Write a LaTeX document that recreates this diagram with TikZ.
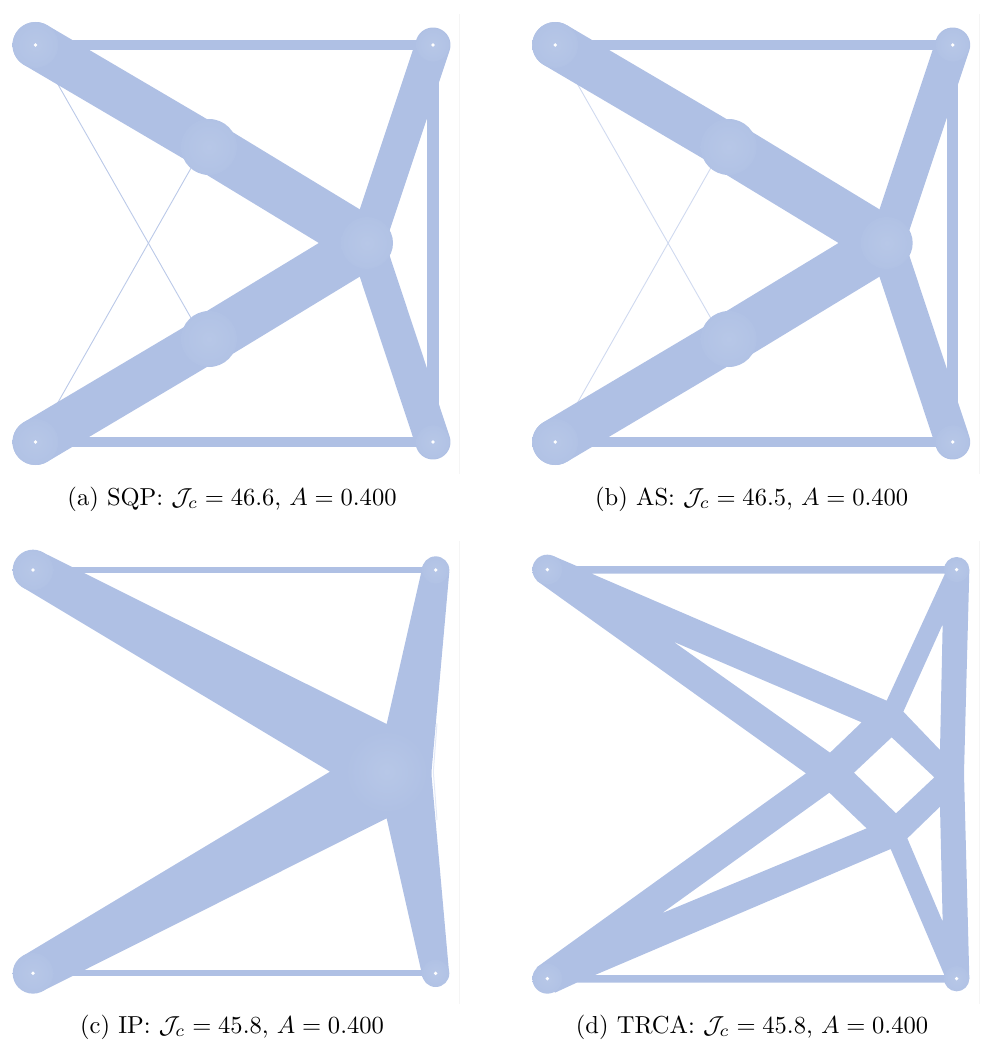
\documentclass[tikz,border=0pt]{standalone}
\tikzset{
  trussfill/.style={fill=trussblue,draw=none},
  bar/.style={draw=trussblue,line cap=round},
  butt/.style={draw=trussblue,line cap=butt},
  thin bar/.style={line width=0.9pt,line cap=butt},
  joint/.style={shade,shading=radial,inner color=trusslight,outer color=trussedge},
  hubglow/.style={shade,shading=radial,inner color=trusslight,outer color=trussblue},
  pinhole/.style={fill=white,draw=none},
  faint/.style={draw=black!4,line width=0.6pt},
  caption/.style={scale=2.455,transform shape,anchor=base,inner sep=0pt},
  zoomed/.style={x=0.33333pt,y=-0.33333pt}
}
\definecolor{trussblue}{HTML}{AFC0E4}
\definecolor{trusslight}{HTML}{B7C7E7}
\definecolor{trussedge}{HTML}{B1C2E5}
\newcommand{\stdpanel}[2]{%
  \begin{scope}[shift={(#1,0)}]
    \coordinate (TL) at (35.5,45);
    \coordinate (TR) at (433,45);
    \coordinate (BL) at (35.5,442);
    \coordinate (BR) at (433,442);
    \coordinate (UM) at (209,147);
    \coordinate (LM) at (209,339);
    \coordinate (UE) at (203,147);
    \coordinate (LE) at (203,339);
    \coordinate (HB) at (367,243);
    \draw[thin bar,draw=#2] (TL) -- (LE);
    \draw[thin bar,draw=#2] (BL) -- (UE);
    \draw[butt,line width=10pt] (TL) -- (TR);
    \draw[butt,line width=10pt] (BL) -- (BR);
    \draw[butt,line width=11.5pt] (TR) -- (BR);
    \draw[bar,line width=35pt] (TR) -- (HB);
    \draw[bar,line width=35pt] (BR) -- (HB);
    \draw[bar,line width=46pt] (TL) -- (UM);
    \draw[bar,line width=46pt] (BL) -- (LM);
    \draw[bar,line width=50pt] (UM) -- (HB);
    \draw[bar,line width=50pt] (LM) -- (HB);
    \path[joint] (HB) circle (26);
    \path[joint] (UM) circle (28);
    \path[joint] (LM) circle (28);
    \path[joint] (TL) circle (23);
    \path[joint] (BL) circle (23);
    \path[joint] (TR) circle (16.7);
    \path[joint] (BR) circle (16.7);
    \foreach \p in {TL,TR,BL,BR} \fill[pinhole] (\p) circle (1.9);
  \end{scope}}
\begin{document}
\begin{tikzpicture}[x=1pt,y=-1pt]
\useasboundingbox (0,0) rectangle (981,1043);
% faint frame lines
\draw[faint] (459.5,14) -- (459.5,474);
\draw[faint] (979.5,14) -- (979.5,474);
\draw[faint] (459.5,541) -- (459.5,1004);
\draw[faint] (979.5,541) -- (979.5,1004);

\stdpanel{0}{trussblue!85}
\stdpanel{519.7}{trussblue!60}

% panel c
\begin{scope}[shift={(0,530)},zoomed]
  \coordinate (cTL) at (99,120);
  \coordinate (cTR) at (1307,120);
  \coordinate (cBL) at (99,1330);
  \coordinate (cBR) at (1307,1330);
  \coordinate (cH) at (1160,725);
  \draw[trussblue!35,line width=1pt] (1311,580) -- (1300,725) -- (1311,870);
  \draw[butt,line width=6pt] (cTL) -- (cTR);
  \draw[butt,line width=6pt] (cBL) -- (cBR);
  \fill[trussfill] (126,66) -- (1160,582) -- (1268,108) -- (1348,125) -- (1295,720) -- (1295,740)
     -- (1347,1325) -- (1268,1342) -- (1160,865) -- (126,1384) -- (68,1278) -- (990,725) -- (68,172) -- cycle;
  \path[hubglow] (cH) circle (125);
  \path[joint] (cTL) circle (61);
  \path[joint] (cBL) circle (61);
  \path[joint] (cTR) circle (41);
  \path[joint] (cBR) circle (41);
  \foreach \p in {cTL,cTR,cBL,cBR} \fill[pinhole] (\p) circle (5.7);
\end{scope}

% panel d
\begin{scope}[shift={(500,530)},zoomed]
  \coordinate (dTL) at (142,119);
  \coordinate (dTR) at (1370,119);
  \coordinate (dBL) at (142,1346);
  \coordinate (dBR) at (1370,1346);
  \fill[trussfill,even odd rule]
     (160,78) -- (230,108) -- (1345,108) -- (1408,120) -- (1392,730) -- (1408,1346) -- (1345,1358) -- (230,1358)
     -- (165,1388) -- (110,1312) -- (918,730) -- (110,152) -- cycle
     (275,131) -- (1160,512) -- (1335,131) -- cycle
     (1328,283) -- (1210,545) -- (1320,660) -- cycle
     (520,335) -- (1085,577) -- (990,668) -- cycle
     (1175,622) -- (1303,742) -- (1188,850) -- (1062,728) -- cycle
     (485,1150) -- (1100,895) -- (988,788) -- cycle
     (285,1335) -- (1172,957) -- (1333,1335) -- cycle
     (1328,1175) -- (1222,925) -- (1320,830) -- cycle;
  \path[joint] (dTL) circle (45);
  \path[joint] (dBL) circle (45);
  \path[joint] (dTR) circle (38);
  \path[joint] (dBR) circle (38);
  \foreach \p in {dTL,dTR,dBL,dBR} \fill[pinhole] (\p) circle (5.7);
\end{scope}

\node[caption] (capa) at (232,505) {(a) SQP: $\mathcal{J}_c=46.6$, $A=0.400$};
\node[caption] (capb) at (751.7,505) {(b) AS: $\mathcal{J}_c=46.5$, $A=0.400$};
\node[caption] (capc) at (232,1033) {(c) IP: $\mathcal{J}_c=45.8$, $A=0.400$};
\node[caption] (capd) at (752,1033) {(d) TRCA: $\mathcal{J}_c=45.8$, $A=0.400$};
\end{tikzpicture}
\end{document}
